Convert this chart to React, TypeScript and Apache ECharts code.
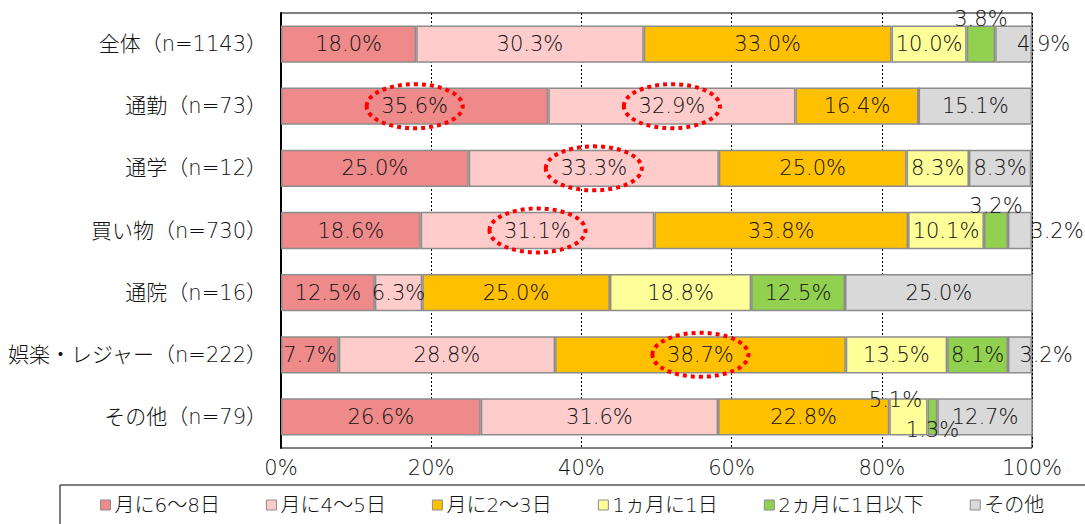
import React, { useEffect, useRef } from "react";
import * as echarts from "echarts";

const categories = [
  "全体（n=1143）",
  "通勤（n=73）",
  "通学（n=12）",
  "買い物（n=730）",
  "通院（n=16）",
  "娯楽・レジャー（n=222）",
  "その他（n=79）",
];

const seriesNames = ["月に6～8日", "月に4～5日", "月に2～3日", "1ヵ月に1日", "2ヵ月に1日以下", "その他"];

const s1 = [18.0, 35.6, 25.0, 18.6, 12.5, 7.7, 26.6];
const s2 = [30.3, 32.9, 33.3, 31.1, 6.3, 28.8, 31.6];
const s3 = [33.0, 16.4, 25.0, 33.8, 25.0, 38.7, 22.8];
const s4 = [10.0, 0, 8.3, 10.1, 18.8, 13.5, 5.1];
const s5 = [3.8, 0, 0, 3.2, 12.5, 8.1, 1.3];
const s6 = [4.9, 15.1, 8.3, 3.2, 25.0, 3.2, 12.7];

const seriesValues = [s1, s2, s3, s4, s5, s6];
const xTicks = [0, 20, 40, 60, 80, 100];

// highlighted (red dotted ellipse) segments: [seriesIndex, categoryIndex]
const highlights = [
  [0, 1],
  [1, 1],
  [1, 2],
  [1, 3],
  [2, 5],
];

const colors = ["#EE8A8A", "#FFCCCC", "#FFC000", "#FFFF99", "#92D050", "#D9D9D9"];

// label offsets for small segments: key "series-category"
const labelOffsets: Record<string, [number, number]> = {
  "4-0": [0, -25],
  "5-0": [30, 0],
  "4-3": [0, -25],
  "5-3": [37, 0],
  "5-5": [26, 0],
  "3-6": [-13, -17],
  "4-6": [0, 13],
};

const FONT = "'DejaVu Sans', 'Noto Sans CJK JP', sans-serif";
const WEIGHT = 200;

export default function App() {
  const ref = useRef<HTMLDivElement>(null);
  useEffect(() => {
    if (!ref.current) return;
    const chart = echarts.init(ref.current, undefined, { renderer: "svg" });
    const series = seriesValues.map((vals, si) => ({
      name: seriesNames[si],
      type: "bar",
      stack: "total",
      barCategoryGap: "40%",
      itemStyle: { color: colors[si], borderColor: "#8c8c8c", borderWidth: 1.5 },
      label: {
        show: true,
        position: "inside",
        color: "#111",
        fontSize: 21,
        fontWeight: WEIGHT,
        fontFamily: FONT,
        formatter: (p: any) => (p.value ? p.value.toFixed(1) + "%" : ""),
      },
      data: vals.map((v, ci) => {
        const off = labelOffsets[`${si}-${ci}`];
        return off ? { value: v, label: { offset: off } } : v;
      }),
    }));
    chart.setOption({
      animation: false,
      textStyle: { fontFamily: FONT, fontWeight: WEIGHT },
      grid: {
        left: 281,
        right: 53,
        top: 13,
        bottom: 76,
        show: true,
        borderColor: "#000",
        borderWidth: 1,
      },
      legend: {
        left: 60,
        top: 485,
        width: 1018,
        padding: [10, 42, 30, 40],
        itemGap: 46,
        itemWidth: 10,
        itemHeight: 10,
        borderColor: "#000",
        borderWidth: 1,
        icon: "rect",
        itemStyle: { borderColor: "#8c8c8c", borderWidth: 1 },
        textStyle: {
          fontSize: 20,
          color: "#111",
          fontFamily: FONT,
          fontWeight: WEIGHT,
          padding: [0, 0, 0, -1],
        },
        data: seriesNames,
      },
      xAxis: {
        type: "value",
        min: xTicks[0],
        max: xTicks[xTicks.length - 1],
        interval: xTicks[1] - xTicks[0],
        axisLine: { show: false },
        axisTick: { show: false },
        axisLabel: {
          formatter: "{value}%",
          fontSize: 21,
          color: "#111",
          margin: 9,
          fontWeight: WEIGHT,
          fontFamily: FONT,
        },
        splitLine: { show: true, lineStyle: { color: "#000", type: [2, 2], width: 1 } },
      },
      yAxis: {
        type: "category",
        inverse: true,
        data: categories,
        axisLine: { show: true, lineStyle: { color: "#000", width: 2 } },
        axisTick: { show: false },
        axisLabel: {
          fontSize: 21,
          color: "#111",
          margin: 14,
          fontWeight: WEIGHT,
          fontFamily: FONT,
        },
      },
      series,
    });

    const graphics = highlights.map(([si, ci]) => {
      let before = 0;
      for (let k = 0; k < si; k++) before += seriesValues[k][ci];
      const mid = before + seriesValues[si][ci] / 2;
      const pt = chart.convertToPixel({ gridIndex: 0 }, [mid, ci]) as number[];
      return {
        type: "ellipse",
        shape: { cx: pt[0], cy: pt[1], rx: 48, ry: 22 },
        style: { fill: "none", stroke: "#FF0000", lineWidth: 4, lineDash: [4, 4] },
        z: 100,
      };
    });
    chart.setOption({ graphic: graphics });

    return () => chart.dispose();
  }, []);
  return (
    <div
      ref={ref}
      style={{ position: "fixed", left: 0, top: 0, width: 1085, height: 524, background: "#fff" }}
    />
  );
}
